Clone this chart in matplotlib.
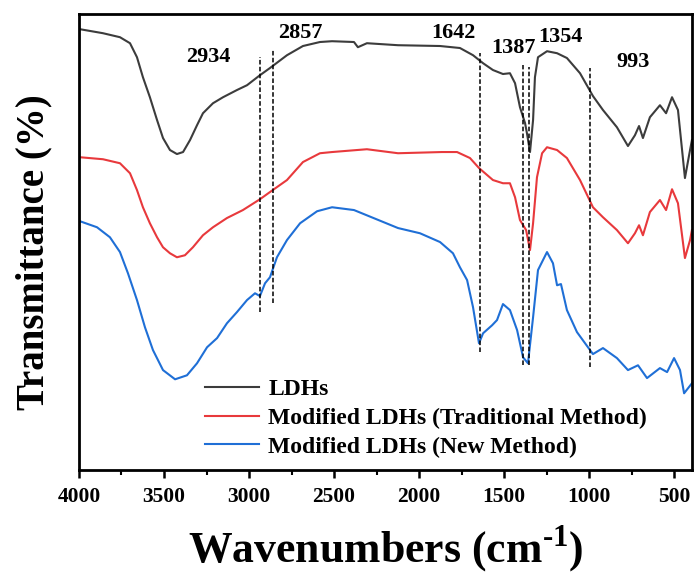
import numpy as np
import matplotlib
matplotlib.use('Agg')
import matplotlib.pyplot as plt

plt.rcParams['font.family'] = ['Liberation Serif', 'DejaVu Serif']
plt.rcParams['font.weight'] = 'bold'
plt.rcParams['mathtext.fontset'] = 'custom'
plt.rcParams['mathtext.rm'] = 'Liberation Serif:bold'
plt.rcParams['mathtext.bf'] = 'Liberation Serif:bold'

# LDHs
wn_ldh = [3994, 3859, 3759, 3700, 3659, 3624, 3583, 3541, 3506, 3465, 3424, 3388, 3347, 3306,
          3271, 3212, 3153, 3071, 3012, 2936, 2877, 2777, 2683, 2583, 2512, 2383, 2360, 2307,
          2124, 1877, 1760, 1683, 1624, 1566, 1507, 1466, 1436, 1407, 1377, 1366, 1348, 1330,
          1319, 1301, 1248, 1189, 1131, 1054, 978, 919, 837, 772, 731, 707, 684, 643, 584,
          548, 513, 478, 437, 407, 396]
t_ldh = [110.2, 109.2, 108.2, 106.7, 103.2, 98.2, 93.2, 87.5, 83, 80, 79, 79.5, 82.5, 86.2,
         89.2, 91.7, 93.2, 95, 96.2, 98.7, 100.5, 103.7, 106, 107, 107.2, 107, 105.7, 106.7,
         106.2, 106, 105.5, 103.7, 101.7, 100, 99, 99.2, 96.7, 90.7, 86.7, 84.2, 79.5, 87.5,
         98.2, 103.2, 104.7, 104.2, 103, 99.2, 93.5, 90, 85.7, 81, 83.7, 86, 83, 88.2, 91.2,
         89.2, 93.2, 90, 73, 80, 82.5]

# Modified LDHs (Traditional Method)
wn_trad = [3994, 3859, 3759, 3700, 3659, 3624, 3583, 3541, 3506, 3465, 3424, 3377, 3330, 3271,
           3212, 3130, 3036, 2936, 2877, 2777, 2683, 2583, 2512, 2307, 2124, 1866, 1777, 1701,
           1648, 1566, 1507, 1466, 1436, 1407, 1371, 1348, 1330, 1307, 1277, 1248, 1189, 1131,
           1054, 978, 919, 837, 772, 731, 707, 684, 643, 584, 548, 513, 478, 437, 407, 396]
t_trad = [78.2, 77.7, 76.7, 74.2, 70, 65.7, 61.7, 58.2, 55.7, 54.2, 53.2, 53.7, 55.7, 58.7,
          60.7, 63, 65, 67.7, 69.5, 72.5, 77, 79.2, 79.5, 80.2, 79.2, 79.5, 79.5, 78,
          75.5, 72.5, 71.7, 71.7, 68.2, 62.5, 60, 55, 61.7, 73.2, 79.2, 80.7, 80, 78,
          72.5, 65.7, 63.2, 60, 56.7, 59.2, 61.2, 58.7, 64.5, 67.5, 65, 70.2, 66.7, 53, 57.5, 60]

# Modified LDHs (New Method)
wn_new = [3994, 3894, 3818, 3759, 3712, 3659, 3612, 3565, 3506, 3435, 3365, 3306, 3247, 3188,
          3130, 3071, 3012, 2965, 2936, 2906, 2877, 2836, 2777, 2700, 2600, 2512, 2383, 2124,
          1995, 1877, 1801, 1760, 1718, 1683, 1648, 1624, 1571, 1542, 1507, 1466, 1424, 1389,
          1360, 1330, 1301, 1248, 1213, 1189, 1166, 1131, 1072, 978, 919, 837, 772, 713, 660,
          584, 542, 501, 466, 442, 396]
t_new = [62.2, 60.7, 58.2, 54.5, 49.2, 42.5, 35.7, 30, 25, 22.7, 23.7, 26.7, 30.7, 33,
         36.7, 39.5, 42.5, 44.2, 43.5, 46.7, 48.2, 53.2, 57.5, 61.7, 64.7, 65.7, 65, 60.5,
         59.2, 57, 54.2, 50.7, 47.5, 40.7, 31.7, 34.2, 36.2, 37.5, 41.5, 40, 35, 28.2,
         26.7, 38.2, 50, 54.5, 51.7, 46.2, 46.5, 40, 34.5, 29, 30.5, 28, 25, 26.2, 23,
         25.5, 24.5, 28, 25, 19.2, 21.7]

# marked bands: label, line top, line bottom, label x, label y
peaks = [2934, 2857, 1642, 1387, 1354, 993]
line_top = [103.2, 105.2, 104.2, 101.2, 100.7, 100.5]
line_bot = [39.5, 41.7, 29.5, 26.2, 26.2, 25.7]
label_x = [3241, 2700, 1801, 1448, 1172, 742]
label_y = [103.2, 109.2, 109.2, 105.5, 108.2, 102]

fig = plt.figure(figsize=(6.94, 5.74), dpi=100)
ax = fig.add_axes([0.1138, 0.181, 0.8832, 0.7946])

ax.plot(wn_ldh, t_ldh, color='#3c3c3c', lw=1.5, label='LDHs')
ax.plot(wn_trad, t_trad, color='#e8393c', lw=1.5, label='Modified LDHs (Traditional Method)')
ax.plot(wn_new, t_new, color='#1f6fd6', lw=1.5, label='Modified LDHs (New Method)')

for p, top, bot, lx, ly in zip(peaks, line_top, line_bot, label_x, label_y):
    ax.plot([p, p], [bot, top], color='black', lw=1.1, ls=(0, (3, 1.5)))
    ax.text(lx, ly, str(p), ha='center', va='center', fontsize=16, fontweight='bold')

ax.set_xlim(4000, 396)
ax.set_ylim(0, 114)
ax.set_xticks([4000, 3500, 3000, 2500, 2000, 1500, 1000, 500])
ax.set_xticks(np.arange(3750, 400, -500), minor=True)
ax.set_yticks([])
ax.tick_params(axis='x', which='major', direction='out', length=6, width=1.8, labelsize=15.5, pad=6)
ax.tick_params(axis='x', which='minor', direction='out', length=3.5, width=1.5)
for lab in ax.get_xticklabels():
    lab.set_fontweight('bold')
for s in ax.spines.values():
    s.set_linewidth(2)

ax.set_xlabel(r'Wavenumbers (cm$^{\text{-1}}$)', fontsize=31.5, fontweight='bold', labelpad=12)
ax.set_ylabel('Transmittance (%)', fontsize=28, fontweight='bold')
ax.yaxis.set_label_coords(-0.044, 0.477)

ax.legend(loc='upper left', bbox_to_anchor=(0.205, 0.2), frameon=False, borderpad=0,
          borderaxespad=0, handlelength=2.3, handletextpad=0.4, labelspacing=0.3,
          prop={'family': 'Liberation Serif', 'weight': 'bold', 'size': 17})

fig.savefig('out.png', dpi=100)
